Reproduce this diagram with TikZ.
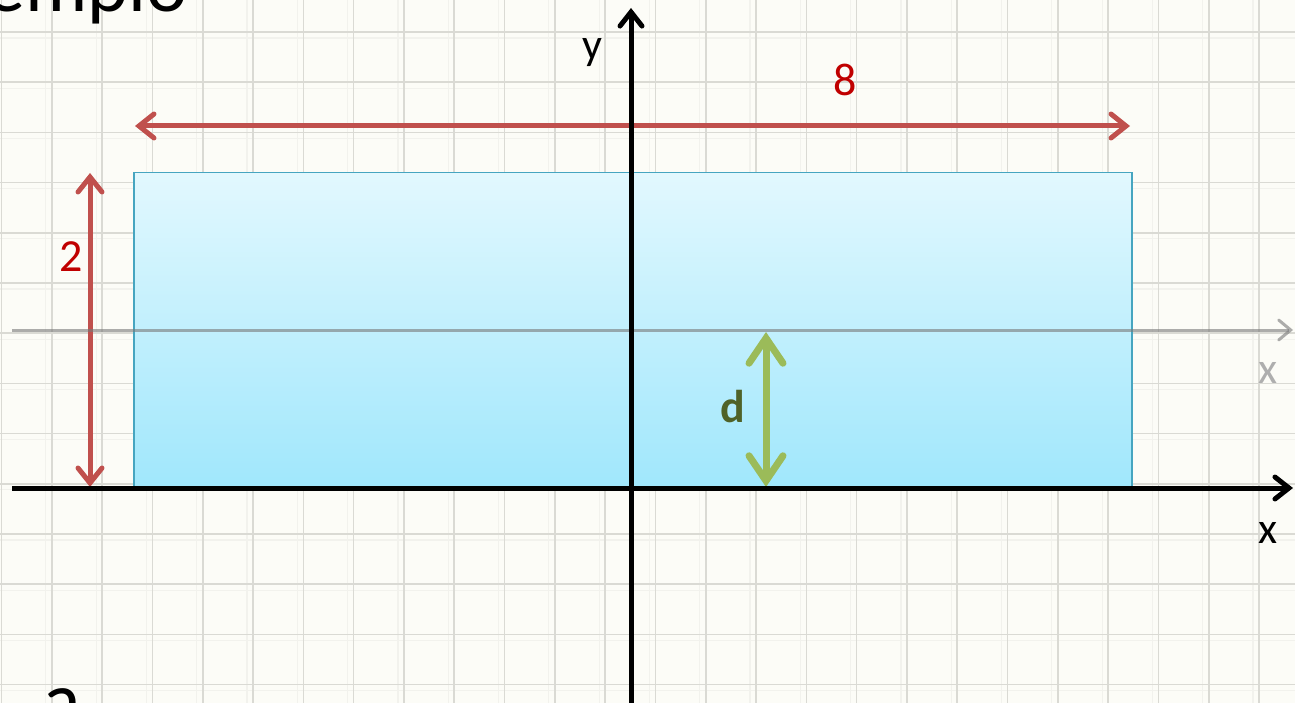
\documentclass[tikz,border=0pt]{standalone}
\usepackage{fontspec}
\setmainfont{Carlito}
\usetikzlibrary{arrows.meta}
\definecolor{bgc}{RGB}{252,252,247}
\definecolor{gridc}{RGB}{218,218,212}
\definecolor{gridf}{RGB}{242,242,237}
\definecolor{redarrow}{RGB}{192,80,77}
\definecolor{redtext}{RGB}{192,0,0}
\definecolor{greenarrow}{RGB}{155,187,89}
\definecolor{greentext}{RGB}{79,98,40}
\definecolor{boxtop}{RGB}{226,248,254}
\definecolor{boxbot}{RGB}{160,231,252}
\definecolor{boxedge}{RGB}{70,165,192}
\definecolor{grayaxis}{RGB}{120,120,120}
\tikzset{
  gridline/.style={gridc, line width=1.6pt},
  faintline/.style={gridf, line width=1.2pt},
  axis/.style={black, line width=5pt, -{Straight Barb[length=14pt,width=22pt,line cap=round]}},
  grayax/.style={grayaxis, opacity=0.6, line width=3pt, -{Straight Barb[length=12pt,width=20pt,line cap=round]}},
  dimred/.style={redarrow, line width=5pt, {Straight Barb[length=15pt,width=24pt,line cap=round]}-{Straight Barb[length=15pt,width=24pt,line cap=round]}},
  dimgreen/.style={greenarrow, line width=7pt, {Straight Barb[length=25pt,width=34pt,line cap=round]}-{Straight Barb[length=25pt,width=34pt,line cap=round]}},
  lab/.style={inner sep=0pt, anchor=base, font=\fontsize{44}{50}\selectfont},
  numlab/.style={inner sep=0pt, anchor=base, text=redtext, font=\fontsize{46}{52}\selectfont},
  bigtext/.style={inner sep=0pt, font=\fontsize{78}{88}\selectfont}
}
\begin{document}
\begin{tikzpicture}[x=1pt,y=-1pt]
\useasboundingbox (0,0) rectangle (1295,703);
\fill[bgc] (0,0) rectangle (1295,703);
\begin{scope}
\clip (0,0) rectangle (1295,703);
% faint secondary grid lines
\foreach \k in {0,...,25} {
  \draw[faintline] ({1.5+50.3*\k-6},0) -- ({1.5+50.3*\k-6},703);
}
\foreach \j in {-1,...,13} {
  \draw[faintline] (0,{32+50.2*\j+6}) -- (1295,{32+50.2*\j+6});
}
% main grid lines
\foreach \k in {0,...,25} {
  \draw[gridline] ({1.5+50.3*\k},0) -- ({1.5+50.3*\k},703);
}
\foreach \j in {-1,...,13} {
  \draw[gridline] (0,{32+50.2*\j}) -- (1295,{32+50.2*\j});
}
% partial texts (cut by the picture's edges, as in the reference)
\node[bigtext, anchor=base east] (title) at (188,12) {Ejemplo};
\node[bigtext, anchor=base west] (item) at (43,726) {a};
\end{scope}

% rectangle
\node[draw=boxedge, line width=1.5pt, top color=boxtop, bottom color=boxbot,
      minimum width=998pt, minimum height=316pt, inner sep=0pt, anchor=north west] (box) at (133,172) {};

% coordinates
\coordinate (wtl) at (135,126);
\coordinate (wtr) at (1130,126);
\coordinate (ht) at (90,173);
\coordinate (hb) at (90,487);
\coordinate (dt) at (766,332);
\coordinate (db) at (766,487);
\coordinate (gxl) at (12,330);
\coordinate (gxr) at (1293,330);
\coordinate (xl) at (12,488);
\coordinate (xr) at (1293,488);
\coordinate (yb) at (631,703);
\coordinate (yt) at (631,8);

% red dimension arrows
\draw[dimred] (wtl) -- (wtr);
\draw[dimred] (ht) -- (hb);
% gray shifted axis
\draw[grayax] (gxl) -- (gxr);
% green arrow
\draw[dimgreen] (dt) -- (db);
% main axes
\draw[axis] (xl) -- (xr);
\draw[axis] (yb) -- (yt);

% labels
\node[numlab] (l8) at (845,96) {8};
\node[numlab] (l2) at (71,272) {2};
\node[lab] (ly) at (592,60) {y};
\node[lab, text=grayaxis!60] (lxg) at (1268,383) {x};
\node[lab] (lx) at (1268,543) {x};
\node[lab, text=greentext, font=\fontsize{46}{52}\selectfont\bfseries] (ld) at (733,422) {d};
\end{tikzpicture}
\end{document}
